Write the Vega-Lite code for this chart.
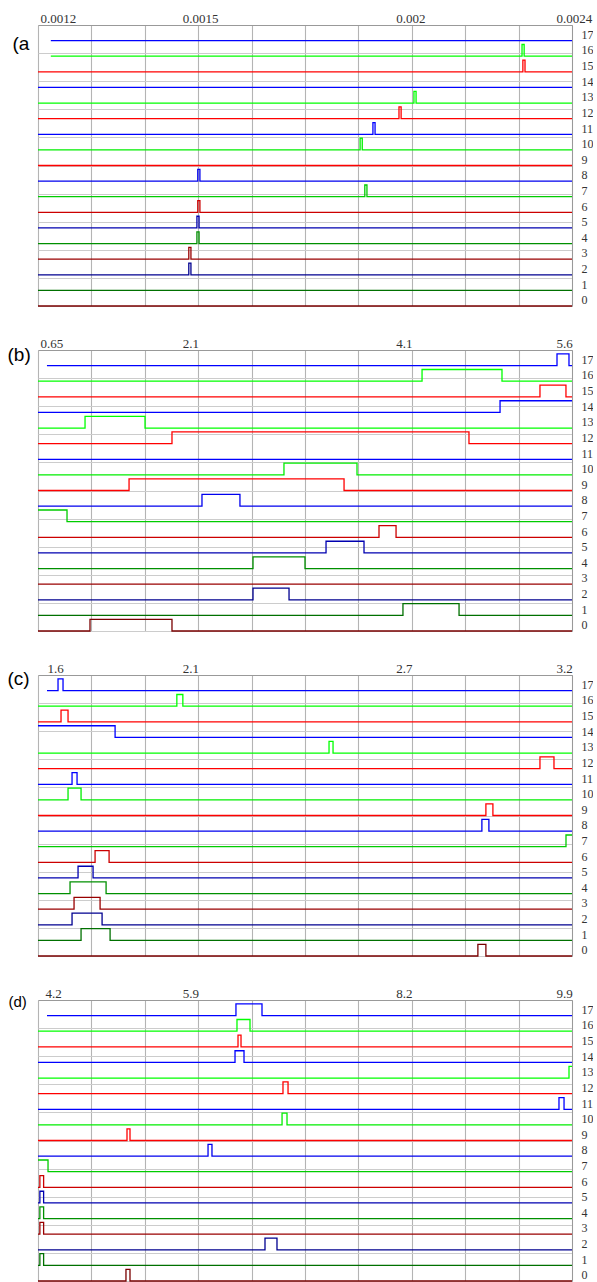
{
"$schema": "https://vega.github.io/schema/vega-lite/v6.json",
"padding": {"left": 7, "top": 12, "right": 0, "bottom": 0},
"bounds": "flush",
"spacing": 44,
"config": {
  "view": {"stroke": null},
  "axis": {"labelFont": "Liberation Serif", "labelColor": "#333", "gridColor": "#b4b4b4", "gridWidth": 1.1, "domainColor": "#999", "labelOverlap": false, "labelFlush": false, "titleFont": "Liberation Sans", "titleFontWeight": "normal", "titleColor": "#000"}
},
"datasets": {
"a": [
{"t":17,"x":0.00118,"y":17},{"t":17,"x":0.0024,"y":17},
{"t":16,"x":0.00118,"y":16},{"t":16,"x":0.002283,"y":16.75},{"t":16,"x":0.002288,"y":16},{"t":16,"x":0.0024,"y":16},
{"t":15,"x":0.00115,"y":15},{"t":15,"x":0.002285,"y":15.75},{"t":15,"x":0.00229,"y":15},{"t":15,"x":0.0024,"y":15},
{"t":14,"x":0.00115,"y":14},{"t":14,"x":0.0024,"y":14},
{"t":13,"x":0.00115,"y":13},{"t":13,"x":0.00203,"y":13.75},{"t":13,"x":0.002035,"y":13},{"t":13,"x":0.0024,"y":13},
{"t":12,"x":0.00115,"y":12},{"t":12,"x":0.001995,"y":12.75},{"t":12,"x":0.002,"y":12},{"t":12,"x":0.0024,"y":12},
{"t":11,"x":0.00115,"y":11},{"t":11,"x":0.001934,"y":11.75},{"t":11,"x":0.001939,"y":11},{"t":11,"x":0.0024,"y":11},
{"t":10,"x":0.00115,"y":10},{"t":10,"x":0.001904,"y":10.75},{"t":10,"x":0.001909,"y":10},{"t":10,"x":0.0024,"y":10},
{"t":9,"x":0.00115,"y":9},{"t":9,"x":0.0024,"y":9},
{"t":8,"x":0.00115,"y":8},{"t":8,"x":0.001524,"y":8.75},{"t":8,"x":0.001529,"y":8},{"t":8,"x":0.0024,"y":8},
{"t":7,"x":0.00115,"y":7},{"t":7,"x":0.001915,"y":7.75},{"t":7,"x":0.00192,"y":7},{"t":7,"x":0.0024,"y":7},
{"t":6,"x":0.00115,"y":6},{"t":6,"x":0.001524,"y":6.75},{"t":6,"x":0.001529,"y":6},{"t":6,"x":0.0024,"y":6},
{"t":5,"x":0.00115,"y":5},{"t":5,"x":0.001522,"y":5.75},{"t":5,"x":0.001527,"y":5},{"t":5,"x":0.0024,"y":5},
{"t":4,"x":0.00115,"y":4},{"t":4,"x":0.001522,"y":4.75},{"t":4,"x":0.001527,"y":4},{"t":4,"x":0.0024,"y":4},
{"t":3,"x":0.00115,"y":3},{"t":3,"x":0.001503,"y":3.75},{"t":3,"x":0.001508,"y":3},{"t":3,"x":0.0024,"y":3},
{"t":2,"x":0.00115,"y":2},{"t":2,"x":0.001503,"y":2.75},{"t":2,"x":0.001508,"y":2},{"t":2,"x":0.0024,"y":2},
{"t":1,"x":0.00115,"y":1},{"t":1,"x":0.0024,"y":1},
{"t":0,"x":0.00115,"y":0},{"t":0,"x":0.0024,"y":0}
],
"b": [
{"t":17,"x":0.733,"y":17},{"t":17,"x":5.461,"y":17.75},{"t":17,"x":5.572,"y":17},{"t":17,"x":5.6,"y":17},
{"t":16,"x":0.65,"y":16},{"t":16,"x":4.21,"y":16.75},{"t":16,"x":4.951,"y":16},{"t":16,"x":5.6,"y":16},
{"t":15,"x":0.65,"y":15},{"t":15,"x":5.303,"y":15.75},{"t":15,"x":5.544,"y":15},{"t":15,"x":5.6,"y":15},
{"t":14,"x":0.65,"y":14},{"t":14,"x":4.933,"y":14.75},{"t":14,"x":5.6,"y":14.75},
{"t":13,"x":0.65,"y":13},{"t":13,"x":1.086,"y":13.75},{"t":13,"x":1.642,"y":13},{"t":13,"x":5.6,"y":13},
{"t":12,"x":0.65,"y":12},{"t":12,"x":1.892,"y":12.75},{"t":12,"x":4.645,"y":12},{"t":12,"x":5.6,"y":12},
{"t":11,"x":0.65,"y":11},{"t":11,"x":5.6,"y":11},
{"t":10,"x":0.65,"y":10},{"t":10,"x":2.93,"y":10.75},{"t":10,"x":3.607,"y":10},{"t":10,"x":5.6,"y":10},
{"t":9,"x":0.65,"y":9},{"t":9,"x":1.494,"y":9.75},{"t":9,"x":3.487,"y":9},{"t":9,"x":5.6,"y":9},
{"t":8,"x":0.65,"y":8},{"t":8,"x":2.17,"y":8.75},{"t":8,"x":2.522,"y":8},{"t":8,"x":5.6,"y":8},
{"t":7,"x":0.65,"y":7.75},{"t":7,"x":0.919,"y":7},{"t":7,"x":5.6,"y":7},
{"t":6,"x":0.65,"y":6},{"t":6,"x":3.811,"y":6.75},{"t":6,"x":3.969,"y":6},{"t":6,"x":5.6,"y":6},
{"t":5,"x":0.65,"y":5},{"t":5,"x":3.32,"y":5.75},{"t":5,"x":3.672,"y":5},{"t":5,"x":5.6,"y":5},
{"t":4,"x":0.65,"y":4},{"t":4,"x":2.643,"y":4.75},{"t":4,"x":3.125,"y":4},{"t":4,"x":5.6,"y":4},
{"t":3,"x":0.65,"y":3},{"t":3,"x":5.6,"y":3},
{"t":2,"x":0.65,"y":2},{"t":2,"x":2.643,"y":2.75},{"t":2,"x":2.977,"y":2},{"t":2,"x":5.6,"y":2},
{"t":1,"x":0.65,"y":1},{"t":1,"x":4.033,"y":1.75},{"t":1,"x":4.553,"y":1},{"t":1,"x":5.6,"y":1},
{"t":0,"x":0.65,"y":0},{"t":0,"x":1.132,"y":0.75},{"t":0,"x":1.892,"y":0},{"t":0,"x":5.6,"y":0}
],
"c": [
{"t":17,"x":1.627,"y":17},{"t":17,"x":1.66,"y":17.75},{"t":17,"x":1.675,"y":17},{"t":17,"x":3.2,"y":17},
{"t":16,"x":1.6,"y":16},{"t":16,"x":2.016,"y":16.75},{"t":16,"x":2.034,"y":16},{"t":16,"x":3.2,"y":16},
{"t":15,"x":1.6,"y":15},{"t":15,"x":1.669,"y":15.75},{"t":15,"x":1.69,"y":15},{"t":15,"x":3.2,"y":15},
{"t":14,"x":1.6,"y":14.75},{"t":14,"x":1.831,"y":14},{"t":14,"x":3.2,"y":14},
{"t":13,"x":1.6,"y":13},{"t":13,"x":2.472,"y":13.75},{"t":13,"x":2.484,"y":13},{"t":13,"x":3.2,"y":13},
{"t":12,"x":1.6,"y":12},{"t":12,"x":3.104,"y":12.75},{"t":12,"x":3.146,"y":12},{"t":12,"x":3.2,"y":12},
{"t":11,"x":1.6,"y":11},{"t":11,"x":1.702,"y":11.75},{"t":11,"x":1.717,"y":11},{"t":11,"x":3.2,"y":11},
{"t":10,"x":1.6,"y":10},{"t":10,"x":1.69,"y":10.75},{"t":10,"x":1.729,"y":10},{"t":10,"x":3.2,"y":10},
{"t":9,"x":1.6,"y":9},{"t":9,"x":2.942,"y":9.75},{"t":9,"x":2.963,"y":9},{"t":9,"x":3.2,"y":9},
{"t":8,"x":1.6,"y":8},{"t":8,"x":2.93,"y":8.75},{"t":8,"x":2.951,"y":8},{"t":8,"x":3.2,"y":8},
{"t":7,"x":1.6,"y":7},{"t":7,"x":3.182,"y":7.75},{"t":7,"x":3.2,"y":7.75},
{"t":6,"x":1.6,"y":6},{"t":6,"x":1.771,"y":6.75},{"t":6,"x":1.813,"y":6},{"t":6,"x":3.2,"y":6},
{"t":5,"x":1.6,"y":5},{"t":5,"x":1.72,"y":5.75},{"t":5,"x":1.765,"y":5},{"t":5,"x":3.2,"y":5},
{"t":4,"x":1.6,"y":4},{"t":4,"x":1.696,"y":4.75},{"t":4,"x":1.804,"y":4},{"t":4,"x":3.2,"y":4},
{"t":3,"x":1.6,"y":3},{"t":3,"x":1.708,"y":3.75},{"t":3,"x":1.786,"y":3},{"t":3,"x":3.2,"y":3},
{"t":2,"x":1.6,"y":2},{"t":2,"x":1.702,"y":2.75},{"t":2,"x":1.792,"y":2},{"t":2,"x":3.2,"y":2},
{"t":1,"x":1.6,"y":1},{"t":1,"x":1.729,"y":1.75},{"t":1,"x":1.816,"y":1},{"t":1,"x":3.2,"y":1},
{"t":0,"x":1.6,"y":0},{"t":0,"x":2.918,"y":0.75},{"t":0,"x":2.942,"y":0},{"t":0,"x":3.2,"y":0}
],
"d": [
{"t":17,"x":4.296,"y":17},{"t":17,"x":6.313,"y":17.75},{"t":17,"x":6.591,"y":17},{"t":17,"x":9.9,"y":17},
{"t":16,"x":4.2,"y":16},{"t":16,"x":6.324,"y":16.75},{"t":16,"x":6.463,"y":16},{"t":16,"x":9.9,"y":16},
{"t":15,"x":4.2,"y":15},{"t":15,"x":6.335,"y":15.75},{"t":15,"x":6.367,"y":15},{"t":15,"x":9.9,"y":15},
{"t":14,"x":4.2,"y":14},{"t":14,"x":6.303,"y":14.75},{"t":14,"x":6.399,"y":14},{"t":14,"x":9.9,"y":14},
{"t":13,"x":4.2,"y":13},{"t":13,"x":9.868,"y":13.75},{"t":13,"x":9.9,"y":13.75},
{"t":12,"x":4.2,"y":12},{"t":12,"x":6.815,"y":12.75},{"t":12,"x":6.869,"y":12},{"t":12,"x":9.9,"y":12},
{"t":11,"x":4.2,"y":11},{"t":11,"x":9.761,"y":11.75},{"t":11,"x":9.815,"y":11},{"t":11,"x":9.9,"y":11},
{"t":10,"x":4.2,"y":10},{"t":10,"x":6.805,"y":10.75},{"t":10,"x":6.858,"y":10},{"t":10,"x":9.9,"y":10},
{"t":9,"x":4.2,"y":9},{"t":9,"x":5.15,"y":9.75},{"t":9,"x":5.182,"y":9},{"t":9,"x":9.9,"y":9},
{"t":8,"x":4.2,"y":8},{"t":8,"x":6.015,"y":8.75},{"t":8,"x":6.057,"y":8},{"t":8,"x":9.9,"y":8},
{"t":7,"x":4.2,"y":7.75},{"t":7,"x":4.307,"y":7},{"t":7,"x":9.9,"y":7},
{"t":6,"x":4.2,"y":6},{"t":6,"x":4.22,"y":6.75},{"t":6,"x":4.26,"y":6},{"t":6,"x":9.9,"y":6},
{"t":5,"x":4.2,"y":5},{"t":5,"x":4.22,"y":5.75},{"t":5,"x":4.26,"y":5},{"t":5,"x":9.9,"y":5},
{"t":4,"x":4.2,"y":4},{"t":4,"x":4.22,"y":4.75},{"t":4,"x":4.26,"y":4},{"t":4,"x":9.9,"y":4},
{"t":3,"x":4.2,"y":3},{"t":3,"x":4.22,"y":3.75},{"t":3,"x":4.26,"y":3},{"t":3,"x":9.9,"y":3},
{"t":2,"x":4.2,"y":2},{"t":2,"x":6.623,"y":2.75},{"t":2,"x":6.751,"y":2},{"t":2,"x":9.9,"y":2},
{"t":1,"x":4.2,"y":1},{"t":1,"x":4.22,"y":1.75},{"t":1,"x":4.26,"y":1},{"t":1,"x":9.9,"y":1},
{"t":0,"x":4.2,"y":0},{"t":0,"x":5.139,"y":0.75},{"t":0,"x":5.182,"y":0},{"t":0,"x":9.9,"y":0}
]
},
"vconcat": [
{
  "width": 534, "height": 281,
  "data": {"name": "a"},
  "layer": [
    {
      "mark": {"type": "line", "interpolate": "step-after", "strokeWidth": 1.3},
      "encoding": {
        "x": {"field": "x", "type": "quantitative", "scale": {"domain": [0.00115, 0.0024], "nice": false, "zero": false},
          "axis": {"orient": "top", "title": null, "values": [0.00115,0.001275,0.0014,0.001525,0.00165,0.001775,0.0019,0.002025,0.00215,0.002275,0.0024], "grid": true, "ticks": false, "domain": true, "labelFontSize": 13, "labelBaseline": "alphabetic", "labelPadding": 3, "labelAlign": "left", "labelOffset": {"condition": {"test": "datum.value < 0.0012", "value": 2}, "value": -16},
            "labelExpr": "datum.value < 0.0012 ? '0.0012' : abs(datum.value - 0.001525) < 0.000001 ? '0.0015' : abs(datum.value - 0.002025) < 0.000001 ? '0.002' : datum.value > 0.00239 ? '0.0024' : ''"}},
        "y": {"field": "y", "type": "quantitative", "scale": {"domain": [0, 18], "nice": false, "zero": false},
          "axis": {"orient": "left", "values": [0,1.8,3.6,5.4,7.2,9,10.8,12.6,14.4,16.2,18], "grid": true, "gridColor": "#cccccc", "labels": false, "ticks": false, "domain": false, "title": "(a", "titleAngle": 0, "titleAlign": "left", "titleBaseline": "middle", "titleX": -26, "titleY": 18, "titleFontSize": 19}},
        "color": {"field": "t", "type": "nominal", "legend": null, "scale": {"domain": [0,1,2,3,4,5,6,7,8,9,10,11,12,13,14,15,16,17], "range": ["#7a0000","#007000","#000090","#990000","#009000","#0000b0","#cc0000","#00cc00","#0000ee","#ff0000","#00ee00","#0000ff","#ff0000","#00ff00","#0000ff","#ff0000","#00ff00","#0000ff"]}}
      }
    },
    {
      "mark": {"type": "line", "opacity": 0},
      "encoding": {
        "x": {"field": "x", "type": "quantitative"},
        "y": {"field": "y", "type": "quantitative", "axis": {"orient": "right", "title": null, "values": [0.4,1.4,2.4,3.4,4.4,5.4,6.4,7.4,8.4,9.4,10.4,11.4,12.4,13.4,14.4,15.4,16.4,17.4], "labelExpr": "'' + round(datum.value - 0.4)", "ticks": false, "grid": false, "domain": true, "labelPadding": 9, "labelFontSize": 12, "labelAlign": "left", "labelBaseline": "middle"}},
        "detail": {"field": "t"}
      }
    }
  ],
  "resolve": {"axis": {"y": "independent"}}
},
{
  "width": 534, "height": 281,
  "data": {"name": "b"},
  "layer": [
    {
      "mark": {"type": "line", "interpolate": "step-after", "strokeWidth": 1.3},
      "encoding": {
        "x": {"field": "x", "type": "quantitative", "scale": {"domain": [0.65, 5.6], "nice": false, "zero": false},
          "axis": {"orient": "top", "title": null, "values": [0.65,1.145,1.64,2.135,2.63,3.125,3.62,4.115,4.61,5.105,5.6], "grid": true, "ticks": false, "domain": true, "labelFontSize": 13, "labelBaseline": "alphabetic", "labelPadding": 3, "labelAlign": "left", "labelOffset": {"condition": {"test": "datum.value < 0.7", "value": 2}, "value": -16},
            "labelExpr": "datum.value < 0.7 ? '0.65' : abs(datum.value - 2.135) < 0.001 ? '2.1' : abs(datum.value - 4.115) < 0.001 ? '4.1' : datum.value > 5.59 ? '5.6' : ''"}},
        "y": {"field": "y", "type": "quantitative", "scale": {"domain": [0, 18], "nice": false, "zero": false},
          "axis": {"orient": "left", "values": [0,1.8,3.6,5.4,7.2,9,10.8,12.6,14.4,16.2,18], "grid": true, "gridColor": "#cccccc", "labels": false, "ticks": false, "domain": false, "title": "(b)", "titleAngle": 0, "titleAlign": "left", "titleBaseline": "middle", "titleX": -31, "titleY": 4, "titleFontSize": 19}},
        "color": {"field": "t", "type": "nominal", "legend": null, "scale": {"domain": [0,1,2,3,4,5,6,7,8,9,10,11,12,13,14,15,16,17], "range": ["#7a0000","#007000","#000090","#990000","#009000","#0000b0","#cc0000","#00cc00","#0000ee","#ff0000","#00ee00","#0000ff","#ff0000","#00ff00","#0000ff","#ff0000","#00ff00","#0000ff"]}}
      }
    },
    {
      "mark": {"type": "line", "opacity": 0},
      "encoding": {
        "x": {"field": "x", "type": "quantitative"},
        "y": {"field": "y", "type": "quantitative", "axis": {"orient": "right", "title": null, "values": [0.4,1.4,2.4,3.4,4.4,5.4,6.4,7.4,8.4,9.4,10.4,11.4,12.4,13.4,14.4,15.4,16.4,17.4], "labelExpr": "'' + round(datum.value - 0.4)", "ticks": false, "grid": false, "domain": true, "labelPadding": 9, "labelFontSize": 12, "labelAlign": "left", "labelBaseline": "middle"}},
        "detail": {"field": "t"}
      }
    }
  ],
  "resolve": {"axis": {"y": "independent"}}
},
{
  "width": 534, "height": 281,
  "data": {"name": "c"},
  "layer": [
    {
      "mark": {"type": "line", "interpolate": "step-after", "strokeWidth": 1.3},
      "encoding": {
        "x": {"field": "x", "type": "quantitative", "scale": {"domain": [1.6, 3.2], "nice": false, "zero": false},
          "axis": {"orient": "top", "title": null, "values": [1.6,1.76,1.92,2.08,2.24,2.4,2.56,2.72,2.88,3.04,3.2], "grid": true, "ticks": false, "domain": true, "labelFontSize": 13, "labelBaseline": "alphabetic", "labelPadding": 3, "labelAlign": "left", "labelOffset": {"condition": {"test": "datum.value < 1.65", "value": 9}, "value": -16},
            "labelExpr": "datum.value < 1.65 ? '1.6' : abs(datum.value - 2.08) < 0.001 ? '2.1' : abs(datum.value - 2.72) < 0.001 ? '2.7' : datum.value > 3.19 ? '3.2' : ''"}},
        "y": {"field": "y", "type": "quantitative", "scale": {"domain": [0, 18], "nice": false, "zero": false},
          "axis": {"orient": "left", "values": [0,1.8,3.6,5.4,7.2,9,10.8,12.6,14.4,16.2,18], "grid": true, "gridColor": "#cccccc", "labels": false, "ticks": false, "domain": false, "title": "(c)", "titleAngle": 0, "titleAlign": "left", "titleBaseline": "middle", "titleX": -31, "titleY": 3, "titleFontSize": 19}},
        "color": {"field": "t", "type": "nominal", "legend": null, "scale": {"domain": [0,1,2,3,4,5,6,7,8,9,10,11,12,13,14,15,16,17], "range": ["#7a0000","#007000","#000090","#990000","#009000","#0000b0","#cc0000","#00cc00","#0000ee","#ff0000","#00ee00","#0000ff","#ff0000","#00ff00","#0000ff","#ff0000","#00ff00","#0000ff"]}}
      }
    },
    {
      "mark": {"type": "line", "opacity": 0},
      "encoding": {
        "x": {"field": "x", "type": "quantitative"},
        "y": {"field": "y", "type": "quantitative", "axis": {"orient": "right", "title": null, "values": [0.4,1.4,2.4,3.4,4.4,5.4,6.4,7.4,8.4,9.4,10.4,11.4,12.4,13.4,14.4,15.4,16.4,17.4], "labelExpr": "'' + round(datum.value - 0.4)", "ticks": false, "grid": false, "domain": true, "labelPadding": 9, "labelFontSize": 12, "labelAlign": "left", "labelBaseline": "middle"}},
        "detail": {"field": "t"}
      }
    }
  ],
  "resolve": {"axis": {"y": "independent"}}
},
{
  "width": 534, "height": 281,
  "data": {"name": "d"},
  "layer": [
    {
      "mark": {"type": "line", "interpolate": "step-after", "strokeWidth": 1.3},
      "encoding": {
        "x": {"field": "x", "type": "quantitative", "scale": {"domain": [4.2, 9.9], "nice": false, "zero": false},
          "axis": {"orient": "top", "title": null, "values": [4.2,4.77,5.34,5.91,6.48,7.05,7.62,8.19,8.76,9.33,9.9], "grid": true, "ticks": false, "domain": true, "labelFontSize": 13, "labelBaseline": "alphabetic", "labelPadding": 3, "labelAlign": "left", "labelOffset": {"condition": {"test": "datum.value < 4.3", "value": 7}, "value": -16},
            "labelExpr": "datum.value < 4.3 ? '4.2' : abs(datum.value - 5.91) < 0.001 ? '5.9' : abs(datum.value - 8.19) < 0.001 ? '8.2' : datum.value > 9.89 ? '9.9' : ''"}},
        "y": {"field": "y", "type": "quantitative", "scale": {"domain": [0, 18], "nice": false, "zero": false},
          "axis": {"orient": "left", "values": [0,1.8,3.6,5.4,7.2,9,10.8,12.6,14.4,16.2,18], "grid": true, "gridColor": "#cccccc", "labels": false, "ticks": false, "domain": false, "title": "(d)", "titleAngle": 0, "titleAlign": "left", "titleBaseline": "middle", "titleX": -30, "titleY": 1, "titleFontSize": 15}},
        "color": {"field": "t", "type": "nominal", "legend": null, "scale": {"domain": [0,1,2,3,4,5,6,7,8,9,10,11,12,13,14,15,16,17], "range": ["#7a0000","#007000","#000090","#990000","#009000","#0000b0","#cc0000","#00cc00","#0000ee","#ff0000","#00ee00","#0000ff","#ff0000","#00ff00","#0000ff","#ff0000","#00ff00","#0000ff"]}}
      }
    },
    {
      "mark": {"type": "line", "opacity": 0},
      "encoding": {
        "x": {"field": "x", "type": "quantitative"},
        "y": {"field": "y", "type": "quantitative", "axis": {"orient": "right", "title": null, "values": [0.4,1.4,2.4,3.4,4.4,5.4,6.4,7.4,8.4,9.4,10.4,11.4,12.4,13.4,14.4,15.4,16.4,17.4], "labelExpr": "'' + round(datum.value - 0.4)", "ticks": false, "grid": false, "domain": true, "labelPadding": 9, "labelFontSize": 12, "labelAlign": "left", "labelBaseline": "middle"}},
        "detail": {"field": "t"}
      }
    }
  ],
  "resolve": {"axis": {"y": "independent"}}
}
]
}
